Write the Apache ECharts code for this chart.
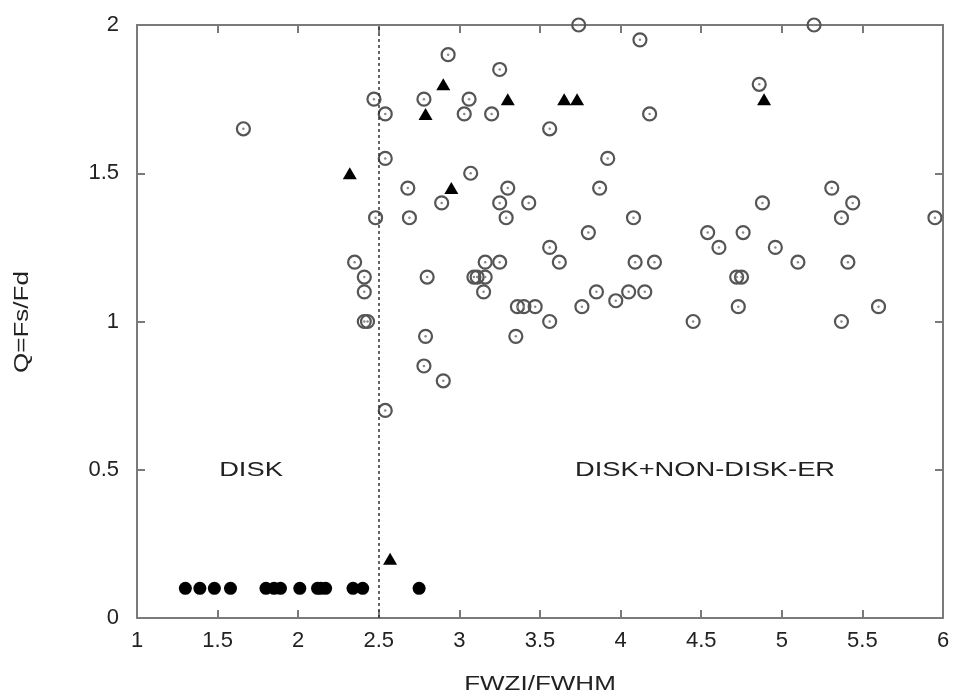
<!DOCTYPE html>
<html>
<head>
<meta charset="utf-8">
<script src="https://cdn.jsdelivr.net/npm/echarts@6/dist/echarts.min.js"></script>
<style>
  html, body { margin: 0; padding: 0; background: #fff; }
  #chart { width: 961px; height: 698px; }
</style>
</head>
<body>
<div id="chart"></div>
<script>
// FWZI/FWHM (x) against Q = Fs/Fd (y)
// Open circles: disk + non-disk emission sources
var openPts = [
  [1.66, 1.65], [2.47, 1.75], [2.54, 1.70], [2.54, 1.55], [2.68, 1.45],
  [2.48, 1.35], [2.69, 1.35], [3.74, 2.00], [4.12, 1.95], [2.93, 1.90],
  [3.25, 1.85], [2.78, 1.75], [3.06, 1.75], [3.03, 1.70], [3.20, 1.70],
  [4.18, 1.70], [3.56, 1.65], [3.92, 1.55], [3.07, 1.50], [3.30, 1.45],
  [3.87, 1.45], [2.89, 1.40], [3.25, 1.40], [3.43, 1.40], [3.29, 1.35],
  [4.08, 1.35], [5.20, 2.00], [4.86, 1.80], [5.31, 1.45], [4.88, 1.40],
  [5.44, 1.40], [5.37, 1.35], [5.95, 1.35], [2.35, 1.20], [2.41, 1.15],
  [2.41, 1.10], [2.41, 1.00], [2.43, 1.00], [2.54, 0.70], [3.80, 1.30],
  [3.56, 1.25], [3.16, 1.20], [3.25, 1.20], [3.62, 1.20], [4.09, 1.20],
  [4.21, 1.20], [2.80, 1.15], [3.09, 1.15], [3.11, 1.15], [3.16, 1.15],
  [3.15, 1.10], [3.85, 1.10], [4.05, 1.10], [4.15, 1.10], [3.97, 1.07],
  [3.36, 1.05], [3.40, 1.05], [3.47, 1.05], [3.76, 1.05], [3.56, 1.00],
  [2.79, 0.95], [3.35, 0.95], [2.78, 0.85], [2.90, 0.80], [4.54, 1.30],
  [4.76, 1.30], [4.61, 1.25], [4.96, 1.25], [5.10, 1.20], [5.41, 1.20],
  [4.72, 1.15], [4.75, 1.15], [4.73, 1.05], [5.60, 1.05], [4.45, 1.00],
  [5.37, 1.00]
];

// Filled triangles
var trianglePts = [
  [2.32, 1.50], [2.90, 1.80], [3.30, 1.75], [3.65, 1.75], [3.73, 1.75],
  [2.79, 1.70], [2.95, 1.45], [4.89, 1.75], [2.57, 0.20]
];

// Filled circles: pure disk sources
var diskX = [1.30, 1.39, 1.48, 1.58, 1.80, 1.85, 1.89, 2.01, 2.12, 2.14, 2.17, 2.34, 2.40, 2.75];
var diskQ = 0.1;

// Separator between the two regimes
var boundaryX = 2.5;

var xTicks = { min: 1, max: 6, step: 0.5 };
var yTicks = { min: 0, max: 2, step: 0.5 };

var xTitle = 'FWZI/FWHM';
var yTitle = 'Q=Fs/Fd';
var regionLabels = ['DISK', 'DISK+NON-DISK-ER'];

var FONT = 'Liberation Sans, Arial, Helvetica, sans-serif';
var AXIS_COLOR = '#7a7a7a';
var TEXT_COLOR = '#222222';
var WIDE = 1.3; // horizontal stretch of the annotation lettering

function fmt(v) { return String(v); }

var chart = echarts.init(document.getElementById('chart'), null, { renderer: 'canvas' });

function axisBase(extra) {
  return Object.assign({
    type: 'value',
    axisLine: { show: true, onZero: false, lineStyle: { color: AXIS_COLOR, width: 2 } },
    axisTick: { show: true, inside: true, length: 8, lineStyle: { color: AXIS_COLOR, width: 2 } },
    splitLine: { show: false }
  }, extra);
}

function label(text, x, y, size, rot) {
  return {
    type: 'text', x: x, y: y, scaleX: WIDE, rotation: rot || 0,
    style: {
      text: text, font: size + 'px ' + FONT, fill: TEXT_COLOR,
      align: 'center', verticalAlign: 'middle',
      textAlign: 'center', textVerticalAlign: 'middle'
    }
  };
}

chart.setOption({
  animation: false,
  backgroundColor: '#ffffff',
  grid: { left: 137, top: 25, right: 18, bottom: 80, containLabel: false },
  xAxis: [
    axisBase({
      position: 'bottom',
      min: xTicks.min, max: xTicks.max, interval: xTicks.step,
      axisLabel: { margin: 12, fontFamily: FONT, fontSize: 22, color: TEXT_COLOR, formatter: fmt }
    }),
    axisBase({
      position: 'top',
      min: xTicks.min, max: xTicks.max, interval: xTicks.step,
      axisLabel: { show: false }
    })
  ],
  yAxis: [
    axisBase({
      position: 'left',
      min: yTicks.min, max: yTicks.max, interval: yTicks.step,
      axisLabel: { margin: 18, fontFamily: FONT, fontSize: 22, color: TEXT_COLOR, formatter: fmt }
    }),
    axisBase({
      position: 'right',
      min: yTicks.min, max: yTicks.max, interval: yTicks.step,
      axisLabel: { show: false }
    })
  ],
  graphic: [
    label(regionLabels[0], 251, 470, 21),
    label(regionLabels[1], 705, 470, 21),
    label(xTitle, 540, 684, 20),
    label(yTitle, 22, 322, 20, Math.PI / 2)
  ],
  series: [
    {
      name: 'boundary',
      type: 'scatter',
      data: [],
      silent: true,
      markLine: {
        silent: true,
        symbol: 'none',
        label: { show: false },
        lineStyle: { color: '#333', width: 1.5, type: [3, 3], opacity: 1 },
        data: [{ xAxis: boundaryX }]
      }
    },
    {
      name: 'open',
      type: 'scatter',
      data: openPts,
      symbol: 'circle',
      symbolSize: 13,
      itemStyle: { color: 'rgba(255,255,255,0)', borderColor: '#555', borderWidth: 2.2, opacity: 1 },
      z: 3
    },
    {
      name: 'openCentre',
      type: 'scatter',
      data: openPts,
      symbol: 'circle',
      symbolSize: 2.5,
      itemStyle: { color: '#888', opacity: 1 },
      z: 4
    },
    {
      name: 'triangle',
      type: 'scatter',
      data: trianglePts,
      symbol: 'triangle',
      symbolSize: [14, 12],
      itemStyle: { color: '#000', opacity: 1 },
      z: 5
    },
    {
      name: 'disk',
      type: 'scatter',
      data: diskX.map(function (x) { return [x, diskQ]; }),
      symbol: 'circle',
      symbolSize: 13,
      itemStyle: { color: '#000', opacity: 1 },
      z: 5
    }
  ]
});
</script>
</body>
</html>
